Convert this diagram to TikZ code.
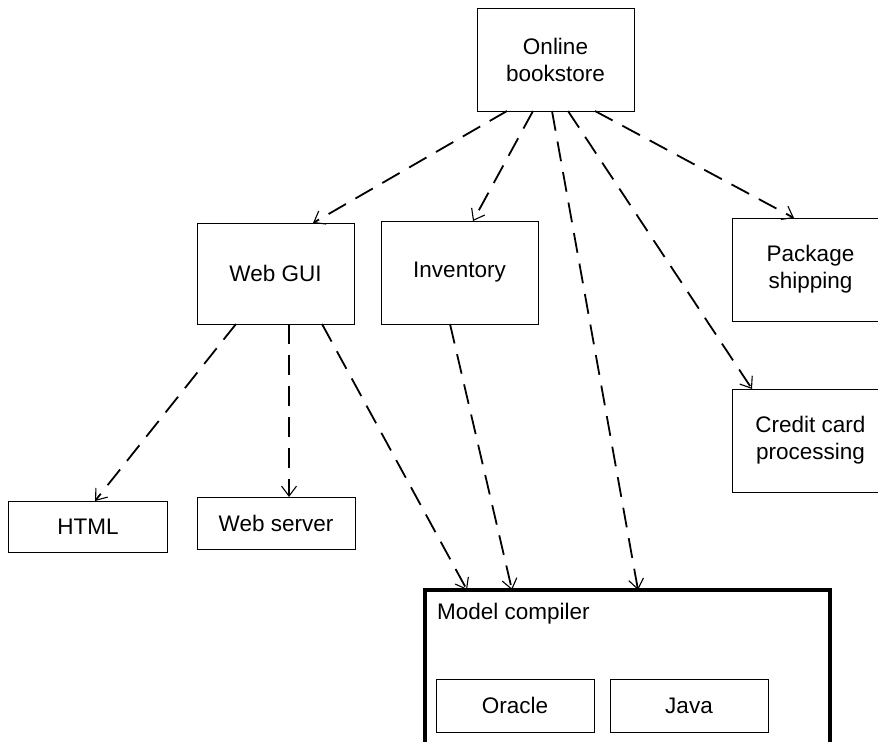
\documentclass[tikz,border=0pt]{standalone}
\usepackage{fontspec}
\setmainfont{Liberation Sans}
\usetikzlibrary{arrows.meta}
\begin{document}
\begin{tikzpicture}[x=1bp,y=-1bp,
  box/.style={draw, line width=1bp, inner sep=0pt, outer sep=0pt, align=center,
    font=\fontsize{22.5bp}{27bp}\selectfont},
  dep/.style={line width=1.8bp, dash pattern=on 20bp off 11bp,
    -{Straight Barb[length=10bp,width=15bp,line width=1.1bp]}},
  lbl/.style={inner sep=0pt, font=\fontsize{22.5bp}{27bp}\selectfont}]
\useasboundingbox (0,0) rectangle (878,742);
\clip (0,0) rectangle (878,742);
\fill[white] (0,0) rectangle (878,742);
\node[box, minimum width=157bp, minimum height=102bp] (ob) at (555.5,60) {Online\\bookstore};
\node[box, minimum width=157bp, minimum height=101bp] (gui) at (275.5,273.5) {Web GUI};
\node[box, minimum width=157bp, minimum height=103bp] (inv) at (459.5,272.5) {Inventory};
\node[box, minimum width=157bp, minimum height=103bp] (ship) at (810.5,269.5) {Package\\shipping};
\node[box, minimum width=157bp, minimum height=103bp] (cc) at (810.5,440.5) {Credit card\\processing};
\node[box, minimum width=158bp, minimum height=51bp] (html) at (88,526.5) {HTML};
\node[box, minimum width=158bp, minimum height=52bp] (ws) at (276,523) {Web server};
\node[draw, line width=3.5bp, inner sep=0pt, outer sep=0pt, minimum width=405bp, minimum height=220bp, anchor=north west] (mc) at (425,590) {};
\node[lbl, anchor=base west] (mclabel) at (437,619) {Model compiler};
\node[box, minimum width=158bp, minimum height=53bp] (ora) at (515,705.5) {Oracle};
\node[box, minimum width=158bp, minimum height=53bp] (java) at (689,705.5) {Java};
% from online bookstore
\draw[dep] ([xshift=30bp]ob.south west) -- ([xshift=116bp]gui.north west);
\draw[dep] ([xshift=56bp]ob.south west) -- ([xshift=92bp]inv.north west);
\draw[dep] ([xshift=75bp]ob.south west) -- ([xshift=213bp]mc.north west);
\draw[dep] ([xshift=91bp]ob.south west) -- ([xshift=20bp]cc.north west);
\draw[dep] ([xshift=118bp]ob.south west) -- ([xshift=62bp]ship.north west);
% from web gui
\draw[dep] ([xshift=39bp]gui.south west) -- ([xshift=86bp]html.north west);
\draw[dep] ([xshift=92bp]gui.south west) -- ([xshift=92bp]ws.north west);
\draw[dep] ([xshift=125bp]gui.south west) -- ([xshift=42bp]mc.north west);
% from inventory
\draw[dep] ([xshift=69bp]inv.south west) -- ([xshift=87bp]mc.north west);
\end{tikzpicture}
\end{document}
